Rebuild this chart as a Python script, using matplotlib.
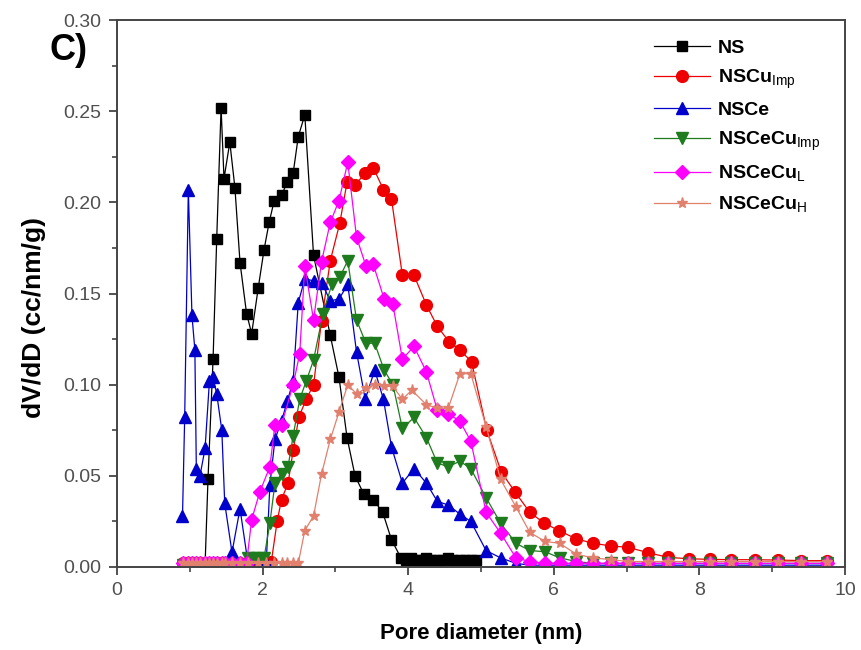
import matplotlib
matplotlib.use("Agg")
import matplotlib.pyplot as plt
from matplotlib.ticker import MultipleLocator, FormatStrFormatter

plt.rcParams['font.family'] = ['Liberation Sans', 'DejaVu Sans']
plt.rcParams['mathtext.fontset'] = 'custom'
plt.rcParams['mathtext.rm'] = 'Liberation Sans'
plt.rcParams['mathtext.bf'] = 'Liberation Sans:bold'

# ---------------- data ----------------
flat_x = [0.91, 0.98, 1.03, 1.09, 1.14, 1.21, 1.27, 1.32, 1.37, 1.44, 1.48, 1.58, 1.69]
tail_x = [6.31, 6.54, 6.79, 7.02, 7.30, 7.57, 7.86, 8.15, 8.44, 8.76, 9.08, 9.40, 9.75]

ns_x = [0.91, 0.98, 1.03, 1.09, 1.14, 1.21, 1.25, 1.32, 1.37, 1.43, 1.47, 1.55, 1.62,
        1.69, 1.78, 1.85, 1.94, 2.02, 2.09, 2.16, 2.26, 2.34, 2.42, 2.49, 2.58, 2.70,
        2.93, 3.05, 3.16, 3.27, 3.39, 3.52, 3.65, 3.77, 3.90, 3.97, 4.04, 4.11, 4.18,
        4.25, 4.32, 4.40, 4.47, 4.55, 4.62, 4.71, 4.78, 4.86, 4.93]
ns_y = [0.001, 0.001, 0.001, 0.001, 0.001, 0.001, 0.048, 0.114, 0.180, 0.252, 0.213,
        0.233, 0.208, 0.167, 0.139, 0.128, 0.153, 0.174, 0.189, 0.201, 0.204, 0.211,
        0.216, 0.236, 0.248, 0.171, 0.127, 0.104, 0.071, 0.050, 0.040, 0.037, 0.030,
        0.015, 0.005, 0.004, 0.005, 0.004, 0.004, 0.005, 0.004, 0.004, 0.004, 0.005,
        0.004, 0.004, 0.004, 0.004, 0.004]

cu_x = flat_x + [1.80, 1.94, 2.05, 2.12, 2.20, 2.26, 2.35, 2.42, 2.50, 2.60, 2.70, 2.81,
                 2.93, 3.06, 3.16, 3.27, 3.41, 3.52, 3.66, 3.77, 3.92, 4.08, 4.25, 4.40,
                 4.56, 4.71, 4.87, 5.08, 5.28, 5.47, 5.67, 5.87, 6.07] + tail_x
cu_y = [0.002] * 13 + [0.002, 0.002, 0.002, 0.003, 0.025, 0.037, 0.046, 0.064, 0.0825,
                       0.092, 0.100, 0.135, 0.168, 0.1885, 0.211, 0.2095, 0.216, 0.219,
                       0.207, 0.202, 0.160, 0.160, 0.1437, 0.132, 0.1236, 0.119, 0.1126,
                       0.075, 0.052, 0.041, 0.030, 0.024, 0.020] + \
       [0.0154, 0.013, 0.0115, 0.0108, 0.0078, 0.0053, 0.0045, 0.0042, 0.004, 0.004,
        0.0038, 0.0035, 0.0035]

ce_x = [0.90, 0.93, 0.98, 1.03, 1.07, 1.09, 1.14, 1.21, 1.27, 1.32, 1.37, 1.44, 1.48,
        1.58, 1.69, 1.80, 1.94, 2.05, 2.10, 2.17, 2.26, 2.34, 2.42, 2.49, 2.58, 2.70,
        2.81, 2.93, 3.05, 3.17, 3.29, 3.41, 3.54, 3.66, 3.77, 3.92, 4.08, 4.25, 4.40,
        4.55, 4.71, 4.86, 5.07, 5.27, 5.48, 5.67, 5.88, 6.08] + tail_x
ce_y = [0.028, 0.082, 0.207, 0.138, 0.119, 0.054, 0.050, 0.065, 0.102, 0.104, 0.095,
        0.075, 0.035, 0.008, 0.032, 0.002, 0.001, 0.002, 0.045, 0.070, 0.080, 0.091,
        0.102, 0.145, 0.158, 0.157, 0.156, 0.146, 0.147, 0.155, 0.118, 0.092, 0.108,
        0.092, 0.066, 0.046, 0.054, 0.046, 0.036, 0.034, 0.029, 0.025, 0.009, 0.005,
        0.002, 0.001, 0.001, 0.001] + [0.001] * 13

ceci_x = flat_x + [1.80, 1.87, 1.94, 2.02, 2.10, 2.17, 2.26, 2.35, 2.42, 2.51, 2.60,
                   2.70, 2.83, 2.95, 3.06, 3.17, 3.29, 3.42, 3.54, 3.67, 3.79, 3.92,
                   4.08, 4.25, 4.40, 4.55, 4.71, 4.86, 5.07, 5.27, 5.48, 5.67, 5.88,
                   6.08] + tail_x
ceci_y = [0.001] * 13 + [0.005, 0.005, 0.005, 0.005, 0.024, 0.046, 0.051, 0.055, 0.072,
                         0.092, 0.102, 0.1135, 0.139, 0.155, 0.159, 0.168, 0.1355,
                         0.1227, 0.1227, 0.108, 0.100, 0.076, 0.082, 0.071, 0.057,
                         0.055, 0.058, 0.054, 0.038, 0.024, 0.013, 0.009, 0.0084,
                         0.005] + [0.003, 0.002, 0.002, 0.002, 0.002, 0.002, 0.002,
                                   0.002, 0.002, 0.002, 0.002, 0.002, 0.002]

cel_x = flat_x + [1.78, 1.85, 1.96, 2.10, 2.17, 2.26, 2.42, 2.51, 2.58, 2.70, 2.81,
                  2.93, 3.05, 3.17, 3.29, 3.42, 3.52, 3.67, 3.79, 3.92, 4.08, 4.25,
                  4.40, 4.55, 4.71, 4.86, 5.07, 5.27, 5.48, 5.67, 5.88, 6.08] + tail_x
cel_y = [0.002] * 13 + [0.002, 0.026, 0.041, 0.055, 0.078, 0.078, 0.100, 0.117, 0.165,
                        0.1355, 0.1675, 0.189, 0.201, 0.222, 0.181, 0.165, 0.166,
                        0.147, 0.144, 0.114, 0.121, 0.107, 0.086, 0.084, 0.080, 0.069,
                        0.030, 0.0185, 0.005, 0.003, 0.002, 0.002] + [0.002] * 13

ceh_x = flat_x + [1.80, 1.94, 2.05, 2.16, 2.26, 2.34, 2.42, 2.49, 2.58, 2.70, 2.81,
                  2.93, 3.05, 3.17, 3.29, 3.42, 3.54, 3.67, 3.79, 3.92, 4.05, 4.25,
                  4.40, 4.55, 4.71, 4.86, 5.07, 5.27, 5.48, 5.67, 5.88, 6.08] + tail_x
ceh_y = [0.002] * 13 + [0.002, 0.002, 0.002, 0.002, 0.002, 0.002, 0.002, 0.002, 0.020,
                        0.028, 0.051, 0.070, 0.085, 0.100, 0.095, 0.098, 0.100, 0.099,
                        0.099, 0.092, 0.097, 0.089, 0.087, 0.087, 0.106, 0.106, 0.077,
                        0.048, 0.033, 0.019, 0.014, 0.013] + \
        [0.007, 0.005, 0.004, 0.003, 0.003, 0.003, 0.003, 0.003, 0.003, 0.003, 0.003,
         0.003, 0.003]

x_ticks = [0, 2, 4, 6, 8, 10]
y_ticks = [0.00, 0.05, 0.10, 0.15, 0.20, 0.25, 0.30]

series = [
    (ns_x, ns_y, 'NS', '#000000', 's', 7.5),
    (cu_x, cu_y, r'NSCu$_{\mathrm{Imp}}$', '#EE0000', 'o', 8.5),
    (ce_x, ce_y, 'NSCe', '#0000CC', '^', 8.5),
    (ceci_x, ceci_y, r'NSCeCu$_{\mathrm{Imp}}$', '#1E7B1E', 'v', 8.5),
    (cel_x, cel_y, r'NSCeCu$_{\mathrm{L}}$', '#FF00FF', 'D', 7.0),
    (ceh_x, ceh_y, r'NSCeCu$_{\mathrm{H}}$', '#E2806E', '*', 8.0),
]

# ---------------- figure ----------------
fig = plt.figure(figsize=(8.62, 6.50), dpi=100)
ax = fig.add_axes([0.1357, 0.1277, 0.8446, 0.8415])

for xs, ys, lab, col, mk, ms in series:
    ax.plot(xs, ys, color=col, lw=0.9, marker=mk, markersize=ms,
            markeredgecolor=col, markerfacecolor=col, label=lab)

ax.set_xlim(0, 10)
ax.set_ylim(0, 0.30)
ax.set_xticks(x_ticks)
ax.set_yticks(y_ticks)
ax.xaxis.set_minor_locator(MultipleLocator(1))
ax.yaxis.set_minor_locator(MultipleLocator(0.025))
ax.yaxis.set_major_formatter(FormatStrFormatter('%.2f'))
ax.tick_params(which='major', direction='out', length=6, width=1.3, pad=5,
               labelsize=14, labelcolor='#505050', color='#444444',
               top=False, right=False)
ax.tick_params(which='minor', direction='out', length=3.5, width=1.2,
               color='#444444', top=False, right=False)
for sp in ax.spines.values():
    sp.set_linewidth(1.4)
    sp.set_color('#444444')

ax.set_xlabel('Pore diameter (nm)', fontsize=16, fontweight='bold', labelpad=17)
ax.set_ylabel('dV/dD (cc/nm/g)', fontsize=19, fontweight='bold')
ax.yaxis.set_label_coords(-0.098, 0.457)

fig.text(0.057, 0.922, 'C)', fontsize=26, fontweight='bold', ha='left', va='center')

leg = ax.legend(loc='upper right', bbox_to_anchor=(0.985, 0.99), frameon=False,
                prop={'weight': 'bold', 'size': 14}, handlelength=2.9,
                handletextpad=0.4, labelspacing=0.55, borderaxespad=0.3)

fig.savefig('out.png', dpi=100)
